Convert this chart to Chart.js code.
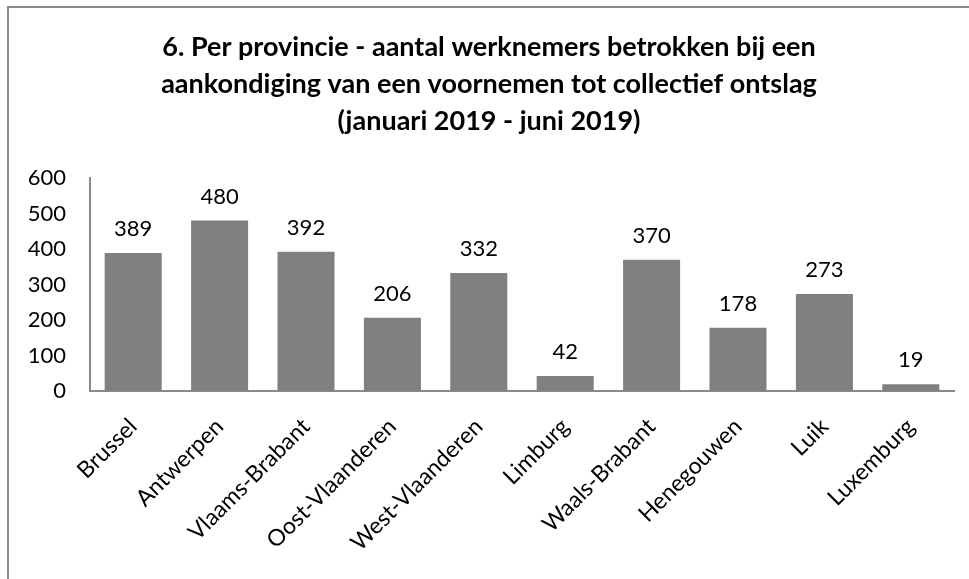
<!DOCTYPE html>
<html>
<head>
<meta charset="utf-8">
<script src="https://cdn.jsdelivr.net/npm/chart.js@4"></script>
<style>
html,body{margin:0;padding:0;background:#fff;overflow:hidden;}
#frame{position:absolute;left:7px;top:6px;width:1000px;height:700px;border-left:2px solid #8a8a8a;border-top:2px solid #8a8a8a;}
#wrap{position:absolute;left:0;top:0;width:969px;height:579px;}
</style>
</head>
<body>
<div id="frame"></div>
<div id="wrap"><canvas id="c" width="969" height="579"></canvas></div>
<script>
const titleLines = [
  "6. Per provincie - aantal werknemers betrokken bij een",
  "aankondiging van een voornemen tot collectief ontslag",
  "(januari 2019 - juni 2019)"
];
const categories = ["Brussel","Antwerpen","Vlaams-Brabant","Oost-Vlaanderen","West-Vlaanderen","Limburg","Waals-Brabant","Henegouwen","Luik","Luxemburg"];
const values = [389,480,392,206,332,42,370,178,273,19];
const yTicks = [0,100,200,300,400,500,600];

const FONT = "Lato, 'Open Sans', sans-serif";

const dataLabels = {
  id: 'dataLabels',
  afterDatasetsDraw(chart) {
    const ctx = chart.ctx;
    const meta = chart.getDatasetMeta(0);
    ctx.save();
    ctx.font = "22px " + FONT;
    ctx.fillStyle = "#000";
    ctx.textAlign = "center";
    ctx.textBaseline = "bottom";
    meta.data.forEach((bar, i) => {
      ctx.fillText(String(values[i]), bar.x, bar.y - 13);
    });
    ctx.restore();
  }
};

new Chart(document.getElementById('c'), {
  type: 'bar',
  data: {
    labels: categories,
    datasets: [{
      data: values,
      backgroundColor: '#808080',
      borderWidth: 0,
      barPercentage: 0.66,
      categoryPercentage: 1.0
    }]
  },
  options: {
    responsive: false,
    animation: false,
    devicePixelRatio: 1,
    layout: { padding: { left: 24, right: 15, top: 0, bottom: 0 } },
    plugins: {
      legend: { display: false },
      tooltip: { enabled: false },
      title: {
        display: true,
        text: titleLines,
        color: '#000',
        font: { family: FONT, size: 27, weight: 'bold', lineHeight: 1.37 },
        padding: { top: 29, bottom: 38 }
      }
    },
    scales: {
      x: {
        grid: { display: false, drawTicks: false },
        border: { display: true, color: '#8a8a8a', width: 2 },
        ticks: {
          color: '#000',
          font: { family: FONT, size: 23 },
          maxRotation: 45, minRotation: 45,
          padding: 22,
          autoSkip: false
        },
        afterFit(scale) { scale.height = 188; }
      },
      y: {
        min: 0, max: 600,
        afterBuildTicks(scale) { scale.ticks = yTicks.map(v => ({ value: v })); },
        grid: { display: false, drawTicks: false },
        border: { display: true, color: '#8a8a8a', width: 2 },
        ticks: {
          color: '#000',
          font: { family: FONT, size: 22 },
          padding: 24
        },
        afterFit(scale) { scale.width = 66; }
      }
    }
  },
  plugins: [dataLabels]
});
</script>
</body>
</html>
